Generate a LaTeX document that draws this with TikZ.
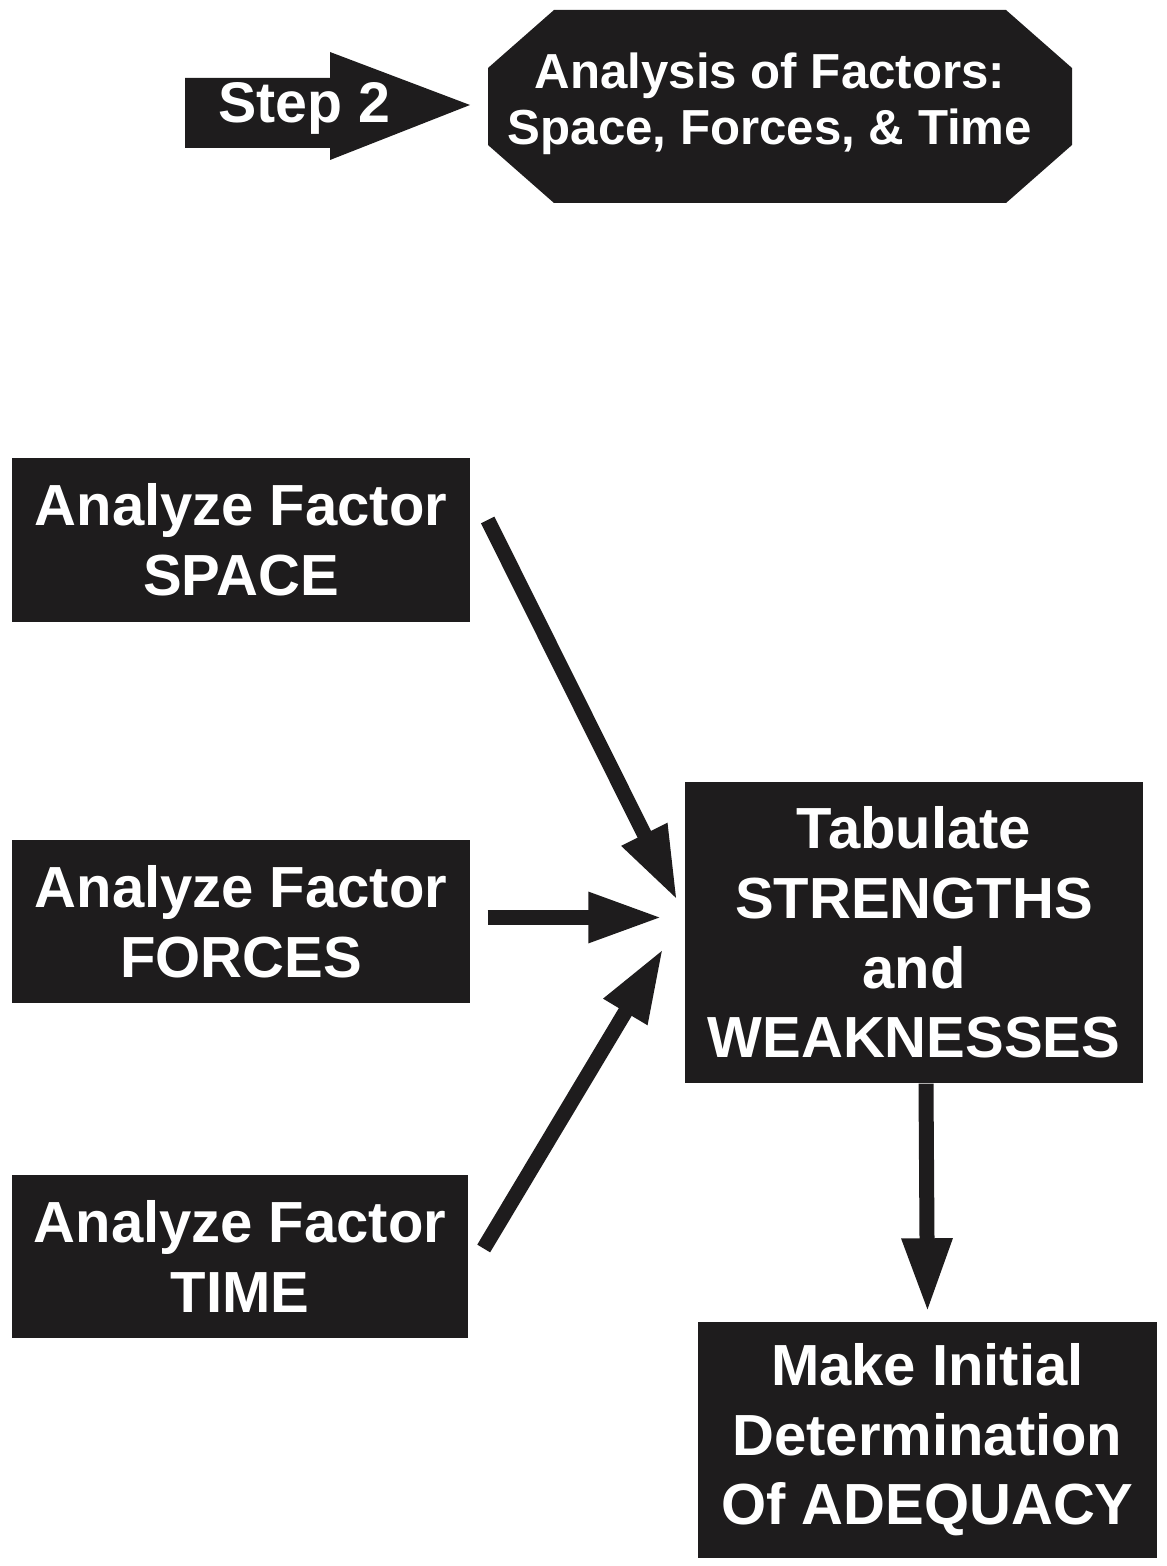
\documentclass[tikz,border=0pt]{standalone}
\usepackage{fontspec}
\setmainfont{Liberation Sans}
\usetikzlibrary{arrows.meta}
\definecolor{ink}{RGB}{30,28,29}
\tikzset{
  factorbox/.style={fill=ink, text=white, align=center, inner sep=0pt,
    font=\bfseries\fontsize{16.5}{19.8}\selectfont},
  bigarrow/.style={draw=ink, line width=0.150000cm,
    -{Triangle[length=0.740000cm,width=0.470000cm]}},
}
\begin{document}
\begin{tikzpicture}
            \useasboundingbox (0.000000,0.000000) rectangle (11.670000,15.660000);
            {\bfseries
            
            % Drawing arrow Step 2
            \fill [ink] (1.850000,14.180000) -- (1.850000,14.880000) -- (3.300000,14.880000) -- (3.300000,15.140000) -- (4.700000,14.610000) -- (3.300000,14.060000) -- (3.300000,14.180000) -- cycle;%
            \node (step) at (3.040000,14.580000) [text=white, font=\bfseries\fontsize{16.3}{19}\selectfont] {Step 2};%
            
            % Drawing octagon of factors
            \fill [ink] (5.540000,15.560000) -- (10.060000,15.560000) -- (10.720000,14.980000) -- (10.720000,14.210000) -- (10.060000,13.630000) -- (5.540000,13.630000) -- (4.880000,14.210000) -- (4.880000,14.980000) -- cycle;%
            \node (factors) at (7.700000,14.620000) [text=white, align=center, font=\bfseries\fontsize{14}{15.8}\selectfont] {Analysis of Factors:\\Space, Forces, \& Time};%
            
            % Drawing boxes of the three factors
            \node (space) at (2.410000,10.260000) [factorbox, minimum width=4.580000cm, minimum height=1.640000cm] {Analyze Factor\\SPACE};%
            \node (forces) at (2.410000,6.445000) [factorbox, minimum width=4.580000cm, minimum height=1.630000cm] {Analyze Factor\\FORCES};%
            \node (time) at (2.400000,3.095000) [factorbox, minimum width=4.560000cm, minimum height=1.630000cm] {Analyze Factor\\TIME};%
            
            % Drawing box of the table
            \node (table) at (9.140000,6.335000) [factorbox, minimum width=4.580000cm, minimum height=3.010000cm] {Tabulate\\STRENGTHS\\and\\WEAKNESSES};%
            
            % Drawing box of the determination
            \node (adequacy) at (9.275000,1.260000) [factorbox, minimum width=4.590000cm, minimum height=2.360000cm] {Make Initial\\Determination\\Of ADEQUACY};%
            
            % Drawing arrows to the table
            \draw [bigarrow] ([xshift=0.170000cm,yshift=0.200000cm]space.east) -- ([xshift=-0.070000cm,yshift=0.320000cm]table.west);%
            \draw [bigarrow] ([xshift=0.170000cm,yshift=0.040000cm]forces.east) -- ([xshift=-0.220000cm,yshift=0.150000cm]table.west);%
            \draw [bigarrow] ([xshift=0.150000cm,yshift=0.080000cm]time.east) -- ([xshift=-0.210000cm,yshift=-0.160000cm]table.west);%
            
            % Drawing arrow to the determination
            \draw [bigarrow] ([xshift=0.120000cm]table.south) -- ([yshift=0.090000cm]adequacy.north);%
            }
        \end{tikzpicture}
\end{document}
